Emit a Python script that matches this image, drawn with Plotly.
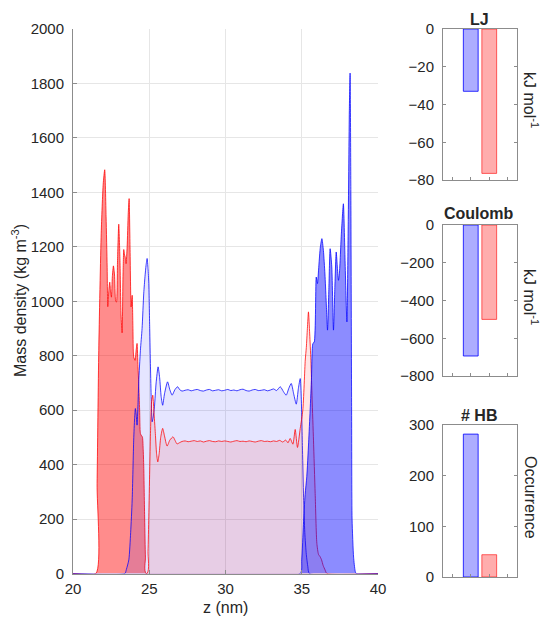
import plotly.graph_objects as go

# ---------------- data ----------------
# red "wall" (dense left layer)
z_red_wall = [20.0, 21.50, 21.58, 21.69, 21.85, 21.98, 22.08, 22.17, 22.24, 22.28, 22.35, 22.41, 22.46,
              22.52, 22.58, 22.65, 22.72, 22.80, 22.85, 22.92, 23.00, 23.08, 23.15, 23.22, 23.28, 23.33,
              23.38, 23.42, 23.48, 23.55, 23.62, 23.68, 23.74, 23.81, 23.88, 23.93, 23.98, 24.07, 24.14,
              24.20, 24.26, 24.31, 24.37, 24.42, 24.50, 24.55, 24.60, 24.64, 24.70, 24.75, 24.80, 40.0]
rho_red_wall = [0, 0, 330, 820, 1250, 1430, 1483, 1310, 1125, 980, 1040, 1070, 1040,
                1015, 1090, 1130, 1100, 1000, 997, 1150, 1283, 1150, 950, 884, 1100, 1190,
                1170, 1163, 1138, 1200, 1320, 1377, 1200, 979, 1022, 900, 796, 783, 820,
                845, 760, 698, 600, 514, 505, 502, 460, 392, 200, 60, 0, 0]

# red liquid
z_red_liq = [20.0, 24.85, 24.92, 24.97, 25.03, 25.08, 25.15, 25.23, 25.30, 25.40, 25.48, 25.56, 25.65,
             25.75, 25.88, 26.00, 26.17, 26.35, 26.56, 26.70, 26.82, 27.00, 27.15, 27.35, 27.55, 27.75,
             27.95, 28.15, 28.35, 28.55, 28.75, 28.95, 29.15, 29.35, 29.55, 29.75, 29.95, 30.15, 30.35,
             30.55, 30.75, 30.95, 31.15, 31.35, 31.55, 31.75, 31.95, 32.15, 32.35, 32.55, 32.75, 32.95,
             33.15, 33.35, 33.55, 33.75, 33.95, 34.10, 34.24, 34.42, 34.57, 34.72, 34.90, 35.07, 35.23,
             35.30, 35.37, 35.44, 35.52, 35.60, 35.68, 35.77, 35.88, 35.99, 36.10, 36.20, 36.30, 36.40,
             36.53, 36.65, 40.0]
rho_red_liq = [0, 0, 80, 208, 380, 514, 630, 655, 600, 514, 440, 410, 440,
               500, 533, 505, 468, 490, 502, 488, 476, 481, 485, 487, 484, 486,
               488, 485, 487, 483, 486, 488, 485, 484, 487, 485, 487, 485, 483,
               486, 488, 485, 486, 484, 487, 485, 483, 486, 488, 485, 486, 484,
               487, 485, 489, 483, 490, 480, 496, 475, 529, 463, 533, 600, 784,
               830, 900, 961, 880, 783, 640, 490, 294, 111, 70, 62, 50, 30,
               13, 0, 0]

# blue liquid
z_blue_liq = [20.0, 23.40, 23.50, 23.66, 23.78, 23.88, 23.98, 24.04, 24.09, 24.15, 24.20, 24.26, 24.31,
              24.42, 24.53, 24.64, 24.72, 24.79, 24.86, 24.92, 24.97, 25.03, 25.08, 25.13, 25.19, 25.26,
              25.34, 25.45, 25.58, 25.68, 25.78, 25.88, 26.00, 26.20, 26.35, 26.50, 26.68, 26.86, 27.00,
              27.15, 27.35, 27.55, 27.75, 27.95, 28.15, 28.35, 28.55, 28.75, 28.95, 29.15, 29.35, 29.55,
              29.75, 29.95, 30.15, 30.35, 30.55, 30.75, 30.95, 31.15, 31.35, 31.55, 31.75, 31.95, 32.15,
              32.35, 32.55, 32.75, 32.95, 33.15, 33.35, 33.59, 33.80, 33.98, 34.15, 34.31, 34.47, 34.64,
              34.78, 34.90, 34.97, 35.05, 35.12, 35.20, 35.30, 35.40, 35.50, 40.0]
rho_blue_liq = [0, 0, 15, 50, 150, 270, 490, 570, 606, 580, 545, 620, 704,
                820, 900, 1030, 1090, 1132, 1157, 1120, 1065, 900, 759, 640, 557, 575,
                612, 700, 759, 720, 650, 618, 660, 704, 675, 655, 675, 686, 675,
                670, 673, 675, 671, 674, 676, 672, 670, 674, 676, 671, 673, 675,
                671, 673, 676, 672, 674, 671, 675, 677, 672, 670, 674, 676, 672,
                673, 675, 671, 674, 678, 672, 686, 668, 655, 680, 698, 660, 622,
                680, 716, 640, 453, 280, 150, 70, 25, 0, 0]

# blue "wall" (dense right layer)
z_blue_wall = [20.0, 34.90, 35.00, 35.11, 35.22, 35.33, 35.45, 35.55, 35.64, 35.73, 35.82, 35.95, 36.03,
               36.12, 36.22, 36.32, 36.42, 36.52, 36.60, 36.69, 36.78, 36.86, 36.97, 37.08, 37.17, 37.26,
               37.34, 37.41, 37.47, 37.60, 37.73, 37.84, 37.96, 38.05, 38.12, 38.17, 38.22, 38.27, 38.30,
               38.40, 38.50, 38.57, 40.0]
rho_blue_wall = [0, 0, 50, 180, 290, 355, 480, 600, 720, 845, 850, 1089, 1065,
                 1130, 1200, 1230, 1187, 1100, 1004, 894, 1050, 1193, 1126, 894, 1050, 1181,
                 1120, 1077, 1103, 1250, 1358, 1150, 924, 1300, 1700, 1838, 1400, 600, 200,
                 60, 10, 0, 0]

bar_x = [1, 2]
lj_values = [-33, -76.5]
coulomb_values = [-694, -500]
hb_values = [282, 44]

# ---------------- figure ----------------
W, H = 541, 617
FONT = "Liberation Sans, Arial, Helvetica, sans-serif"
TXT = "#262626"

def px_x(p):
    return p / W

def px_y(p):
    return 1 - p / H

fig = go.Figure()

RED_DARK = "rgba(255,0,0,0.45)"
BLUE_DARK = "rgba(0,0,255,0.45)"
RED_LIGHT = "rgba(255,0,0,0.10)"
BLUE_LIGHT = "rgba(0,0,255,0.10)"
RED_LINE = "rgba(255,0,0,0.75)"
BLUE_LINE = "rgba(0,0,255,0.75)"

def dens(z, r, fc, lc):
    return go.Scatter(x=z, y=r, mode="lines", fill="tozeroy", fillcolor=fc,
                      line=dict(color=lc, width=1, shape="spline", smoothing=0.6),
                      xaxis="x", yaxis="y")

fig.add_trace(dens(z_red_wall, rho_red_wall, RED_DARK, RED_LINE))
fig.add_trace(dens(z_blue_liq, rho_blue_liq, BLUE_LIGHT, BLUE_LINE))
fig.add_trace(dens(z_red_liq, rho_red_liq, RED_LIGHT, RED_LINE))
fig.add_trace(dens(z_blue_wall, rho_blue_wall, BLUE_DARK, BLUE_LINE))

bar_fill = ["rgba(0,0,255,0.32)", "rgba(255,0,0,0.32)"]
bar_edge = ["rgba(0,0,255,0.8)", "rgba(255,0,0,0.6)"]
for vals, xa, ya in [(lj_values, "x2", "y2"), (coulomb_values, "x3", "y3"), (hb_values, "x4", "y4")]:
    fig.add_trace(go.Bar(x=bar_x, y=vals, width=0.8, xaxis=xa, yaxis=ya,
                         marker=dict(color=bar_fill, line=dict(color=bar_edge, width=1))))

tickfont = dict(family=FONT, size=15, color=TXT)

main_dom_x = [px_x(73), px_x(378)]
main_dom_y = [px_y(573.5), px_y(29)]
bar_dom_x = [px_x(443), px_x(517)]

layout = dict(
    width=W, height=H, margin=dict(l=0, r=0, t=0, b=0),
    paper_bgcolor="white", plot_bgcolor="white", showlegend=False,
    font=dict(family=FONT, color=TXT),
    xaxis=dict(domain=main_dom_x, anchor="y", range=[20, 40], tickvals=[20, 25, 30, 35, 40],
               showgrid=True, gridcolor="#e6e6e6", gridwidth=1, zeroline=False,
               showline=True, linecolor="#8c8c8c", linewidth=1, mirror=False,
               ticks="inside", ticklen=4, tickcolor="#8c8c8c", tickfont=tickfont,
               ticklabelstandoff=1, automargin=False),
    yaxis=dict(domain=main_dom_y, anchor="x", range=[0, 2000], tickvals=list(range(0, 2001, 200)),
               showgrid=True, gridcolor="#e6e6e6", gridwidth=1, zeroline=False,
               showline=True, linecolor="#8c8c8c", linewidth=1, mirror=False,
               ticks="inside", ticklen=4, tickcolor="#8c8c8c", tickfont=tickfont,
               ticklabelstandoff=5, automargin=False),
)

bar_specs = [
    ("2", [px_y(180), px_y(29)], [-80, 0], [0, -20, -40, -60, -80]),
    ("3", [px_y(376), px_y(225)], [-800, 0], [0, -200, -400, -600, -800]),
    ("4", [px_y(577), px_y(425)], [0, 300], [0, 100, 200, 300]),
]
for n, ydom, yr, tv in bar_specs:
    layout["xaxis" + n] = dict(domain=bar_dom_x, anchor="y" + n, range=[-0.5, 3.5],
                               tickvals=[0, 1, 2, 3], showticklabels=False,
                               showgrid=False, zeroline=False, showline=True, linecolor="#8c8c8c",
                               linewidth=1, mirror=True, ticks="inside", ticklen=3,
                               tickcolor="#8c8c8c", automargin=False)
    layout["yaxis" + n] = dict(domain=ydom, anchor="x" + n, range=yr, tickvals=tv,
                               showgrid=False, zeroline=False, showline=True, linecolor="#8c8c8c",
                               linewidth=1, mirror="ticks", ticks="inside", ticklen=3,
                               tickcolor="#8c8c8c", tickfont=tickfont, ticklabelstandoff=5,
                               automargin=False)

fig.update_layout(**layout)

ann = []
def add_text(text, x, y, size=16, angle=0, bold=False):
    ann.append(dict(text=("<b>%s</b>" % text) if bold else text, x=px_x(x), y=px_y(y),
                    xref="paper", yref="paper", showarrow=False, textangle=angle,
                    font=dict(family=FONT, size=size, color=TXT),
                    xanchor="center", yanchor="middle"))

add_text("z (nm)", 225, 607)
add_text("Mass density (kg m<sup>-3</sup>)", 19, 301, angle=-90)
add_text("LJ", 479, 19, bold=True)
add_text("Coulomb", 479, 213, bold=True)
add_text("# HB", 479, 415, bold=True)
add_text("kJ mol<sup>-1</sup>", 531, 100, angle=90)
add_text("kJ mol<sup>-1</sup>", 531, 297, angle=90)
add_text("Occurrence", 531, 497, angle=90)
fig.update_layout(annotations=ann)

fig.write_html("out.html", config={"displayModeBar": False},
               post_script="document.body.style.margin='0';")
